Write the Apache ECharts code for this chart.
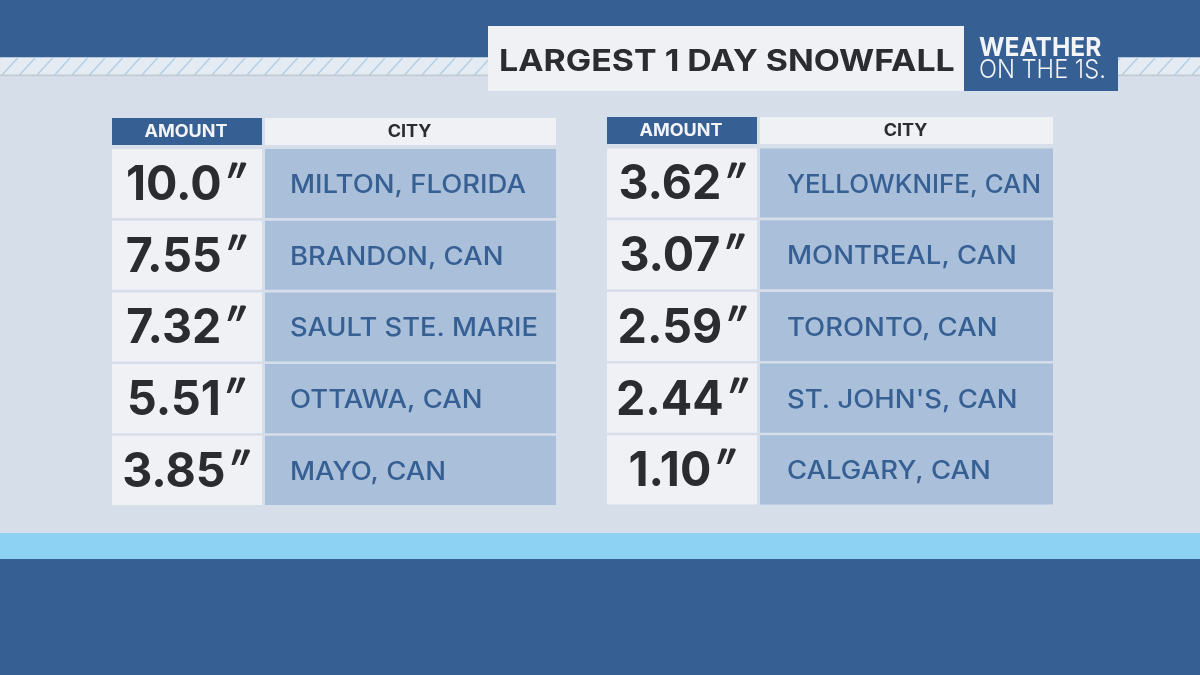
<!DOCTYPE html>
<html>
<head>
<meta charset="utf-8">
<title>Largest 1 Day Snowfall</title>
<script src="https://cdn.jsdelivr.net/npm/echarts@6/dist/echarts.min.js"></script>
<style>
html, body { margin: 0; padding: 0; background: #d6deea; }
#main { width: 1200px; height: 675px; }
</style>
</head>
<body>
<div id="main"></div>
<script>
var titleText = 'LARGEST 1 DAY SNOWFALL';
var logoTop = 'WEATHER';
var logoBottom = 'ON THE 1S.';
var headers = ['AMOUNT', 'CITY'];

var leftCities = ['MILTON, FLORIDA', 'BRANDON, CAN', 'SAULT STE. MARIE', 'OTTAWA, CAN', 'MAYO, CAN'];
var leftAmounts = ['10.0', '7.55', '7.32', '5.51', '3.85'];
var rightCities = ['YELLOWKNIFE, CAN', 'MONTREAL, CAN', 'TORONTO, CAN', "ST. JOHN'S, CAN", 'CALGARY, CAN'];
var rightAmounts = ['3.62', '3.07', '2.59', '2.44', '1.10'];

var BLUE = '#365f93';
var PANEL = '#d6deea';
var LIGHT = '#eff1f4';
var CELL = '#aabfd9';
var DARK = '#2b2c2f';
var FONT = 'Inter, "Noto Sans", sans-serif';
var CITY_FONT = '500 25px ' + FONT;

var myChart = echarts.init(document.getElementById('main'), null, {renderer: 'canvas'});

var measureCtx = document.createElement('canvas').getContext('2d');

// Inter is narrower than the broadcast font, stretch the names but keep long ones inside the cell
function cityScale(text, maxWidth) {
    measureCtx.font = CITY_FONT;
    return Math.min(1.1, maxWidth / measureCtx.measureText(text).width);
}

// one table: amount column 150 wide, 3 gap, then the city column
function tableItem(amounts, cities, cityX, amountCx, gridLeft, gridWidth, maxCity) {
    return function (params, api) {
        var i = params.dataIndex;
        var band = api.size([0, 1])[1];
        var cy = api.coord([0, i])[1];
        var top = cy - band / 2;
        var h = band - 2.6;
        var mid = top + h / 2;
        return {
            type: 'group',
            children: [
                {type: 'rect', shape: {x: gridLeft, y: top, width: 150, height: h}, style: {fill: LIGHT}},
                {type: 'rect', shape: {x: gridLeft + 153, y: top, width: gridWidth - 153, height: h}, style: {fill: CELL}},
                {
                    type: 'text', x: amountCx, y: mid + 2, scaleX: 0.97,
                    style: {
                        text: '{n|' + amounts[i] + '}{q|\u2033}', align: 'center', verticalAlign: 'middle',
                        rich: {
                            n: {fill: DARK, font: '700 48px ' + FONT},
                            q: {fill: DARK, font: 'italic 700 48px Lato, ' + FONT}
                        }
                    }
                },
                {
                    type: 'text', x: cityX, y: mid + 2, scaleX: cityScale(cities[i], maxCity),
                    style: {
                        text: cities[i], fill: BLUE, align: 'left', verticalAlign: 'middle',
                        font: CITY_FONT
                    }
                }
            ]
        };
    };
}

function hatch(x0, x1) {
    var out = [];
    for (var x = x0; x < x1; x += 17.5) {
        out.push({
            type: 'line', silent: true, z: 1,
            shape: {x1: x, y1: 75, x2: x + 16, y2: 57.5},
            style: {stroke: '#b0cee8', lineWidth: 1.4}
        });
    }
    return out;
}

function header(left, top, w1, x2, w2) {
    return [
        {type: 'rect', z: 2, shape: {x: left, y: top, width: w1, height: 27}, style: {fill: BLUE}},
        {type: 'rect', z: 2, shape: {x: x2, y: top, width: w2, height: 27}, style: {fill: LIGHT}},
        {type: 'text', z: 3, x: left + w1 / 2 - 1, y: top + 14, scaleX: 1.06, style: {text: headers[0], fill: '#f2f4f7', align: 'center', verticalAlign: 'middle', font: '700 17px ' + FONT}},
        {type: 'text', z: 3, x: x2 + w2 / 2 - 1, y: top + 14, scaleX: 1.06, style: {text: headers[1], fill: DARK, align: 'center', verticalAlign: 'middle', font: '700 17px ' + FONT}}
    ];
}

var chrome = [
    {type: 'rect', z: 0, shape: {x: 0, y: 0, width: 1200, height: 57.5}, style: {fill: BLUE}},
    {type: 'rect', z: 0, shape: {x: 0, y: 57.5, width: 1200, height: 18.5}, style: {fill: '#e5ebf2'}},
    {type: 'rect', z: 2, shape: {x: 0, y: 74.5, width: 1200, height: 1.8}, style: {fill: '#c2cad6'}}
].concat(hatch(-15.5, 1200)).concat([
    {type: 'rect', z: 0, shape: {x: 0, y: 533, width: 1200, height: 26}, style: {fill: '#8dd1f3'}},
    {type: 'rect', z: 0, shape: {x: 0, y: 559, width: 1200, height: 116}, style: {fill: BLUE}},
    {type: 'rect', z: 2, shape: {x: 488, y: 26, width: 476, height: 65}, style: {fill: LIGHT}},
    {type: 'rect', z: 2, shape: {x: 964, y: 26, width: 154, height: 65}, style: {fill: BLUE}},
    {type: 'text', z: 3, x: 499, y: 62, scaleX: 1.13, style: {text: titleText, fill: DARK, align: 'left', verticalAlign: 'middle', font: '700 30px ' + FONT}},
    {type: 'text', z: 3, x: 979, y: 48, scaleX: 0.945, style: {text: logoTop, fill: '#f2f4f7', align: 'left', verticalAlign: 'middle', font: '700 26px ' + FONT}},
    {type: 'text', z: 3, x: 979, y: 70, scaleX: 0.91, style: {text: logoBottom, fill: '#f2f4f7', align: 'left', verticalAlign: 'middle', font: '300 26px ' + FONT}}
]).concat(header(112, 118, 150, 265, 291)).concat(header(607, 117, 150, 760, 293));

function hiddenCat(index, names) {
    return {
        type: 'category', gridIndex: index, inverse: true, data: names, show: false
    };
}

option = {
    animation: false,
    backgroundColor: PANEL,
    graphic: {elements: chrome},
    grid: [
        {left: 112, top: 149, width: 444, height: 358.5},
        {left: 607, top: 148.5, width: 446, height: 358.5}
    ],
    xAxis: [
        {type: 'value', gridIndex: 0, show: false, min: 0, max: 1},
        {type: 'value', gridIndex: 1, show: false, min: 0, max: 1}
    ],
    yAxis: [hiddenCat(0, leftCities), hiddenCat(1, rightCities)],
    series: [
        {
            type: 'custom', xAxisIndex: 0, yAxisIndex: 0, z: 5, silent: true, clip: false,
            encode: {y: 0},
            data: leftCities.map(function (c) { return [c]; }),
            renderItem: tableItem(leftAmounts, leftCities, 290, 185.5, 112, 444, 248)
        },
        {
            type: 'custom', xAxisIndex: 1, yAxisIndex: 1, z: 5, silent: true, clip: false,
            encode: {y: 0},
            data: rightCities.map(function (c) { return [c]; }),
            renderItem: tableItem(rightAmounts, rightCities, 787, 681.5, 607, 446, 254)
        }
    ]
};

myChart.setOption(option);
</script>
</body>
</html>
